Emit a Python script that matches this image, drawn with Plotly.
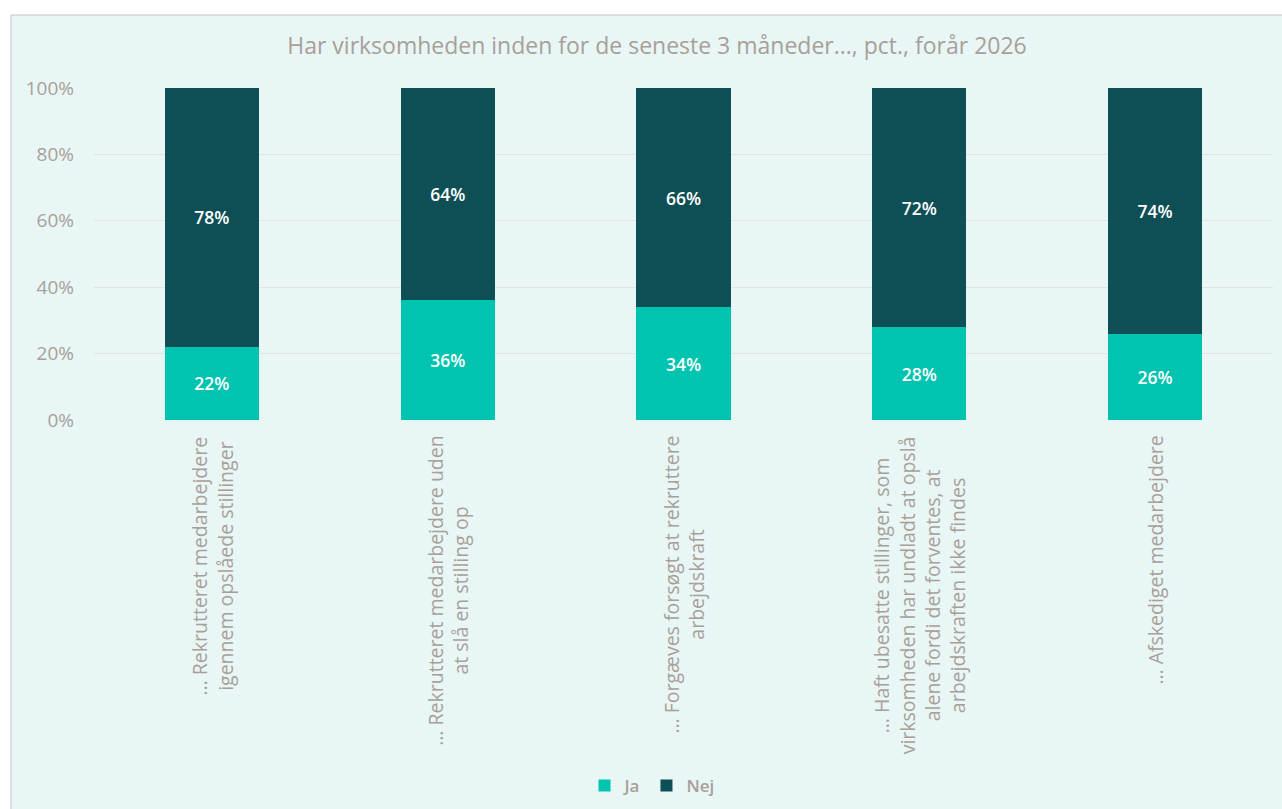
import plotly.graph_objects as go

categories = [
    "… Rekrutteret medarbejdere<br>igennem opslåede stillinger",
    "… Rekrutteret medarbejdere uden<br>at slå en stilling op",
    "… Forgæves forsøgt at rekruttere<br>arbejdskraft",
    "… Haft ubesatte stillinger, som<br>virksomheden har undladt at opslå<br>alene fordi det forventes, at<br>arbejdskraften ikke findes",
    "… Afskediget medarbejdere",
]
ja = [22, 36, 34, 28, 26]
nej = [78, 64, 66, 72, 74]
y_ticks = [0, 20, 40, 60, 80, 100]
y_tick_labels = ["0%", "20%", "40%", "60%", "80%", "100%"]
title = "Har virksomheden inden for de seneste 3 måneder..., pct., forår 2026"

FONT = "Open Sans"
GRAY = "#A8A098"
C_JA = "#00C3B0"
C_NEJ = "#0D4F55"
BG = "#E8F6F6"

xs = list(range(len(categories)))

fig = go.Figure()
for name, vals, col in (("Ja", ja, C_JA), ("Nej", nej, C_NEJ)):
    fig.add_trace(go.Bar(
        x=xs, y=vals, name=name, marker=dict(color=col, line=dict(width=0)),
        texttemplate="%{y:.0f}%", textposition="inside", insidetextanchor="middle",
        textfont=dict(color="white", size=17.5, family=FONT, weight=600), width=0.4,
    ))

W, H = 1282, 809
L, T = 94, 88
R = W - 1273
B = H - 420
pw, ph = W - L - R, H - T - B

def px_x(p):
    return (p - L) / pw

def px_y(p):
    return (H - B - p) / ph

for i, c in enumerate(categories):
    fig.add_annotation(
        x=i, xref="x", y=px_y(434), yref="paper", yanchor="top", xanchor="center",
        text=c, textangle=-90, showarrow=False, align="center",
        font=dict(family=FONT, size=19.5, color=GRAY),
    )

fig.add_shape(
    type="rect", xref="paper", yref="paper",
    x0=px_x(11), x1=px_x(1300), y0=px_y(830), y1=px_y(15),
    fillcolor=BG, line=dict(color="#C8C4BF", width=1), layer="below",
)

fig.update_layout(
    width=W, height=H,
    margin=dict(l=L, r=R, t=T, b=B, autoexpand=False),
    paper_bgcolor="white", plot_bgcolor="rgba(0,0,0,0)",
    barmode="stack",
    title=dict(text=title, x=px_x(657), xref="paper", xanchor="center",
               y=1 - 46 / H, yref="container", yanchor="middle",
               font=dict(family=FONT, size=23, color=GRAY)),
    legend=dict(orientation="h", x=px_x(652), xanchor="center",
                y=1 - 786 / H, yref="container", yanchor="middle",
                font=dict(family=FONT, size=17, color=GRAY, weight=600), bgcolor="rgba(0,0,0,0)",
                itemwidth=30, traceorder="normal"),
    font=dict(family=FONT, color=GRAY),
    showlegend=True,
)
fig.update_xaxes(range=[-0.5, 4.5], showticklabels=False, showgrid=False, zeroline=False,
                 showline=False, ticks="")
fig.update_yaxes(range=[0, 100], tickvals=y_ticks, ticktext=y_tick_labels, showgrid=True,
                 gridcolor="#E4E2DC", gridwidth=1, zeroline=False, showline=False,
                 tickfont=dict(family=FONT, size=19, color=GRAY), ticklabelstandoff=19)

fig.write_html("out.html", config={"displayModeBar": False},
               post_script="document.body.style.margin='0';document.body.style.overflow='hidden';")
